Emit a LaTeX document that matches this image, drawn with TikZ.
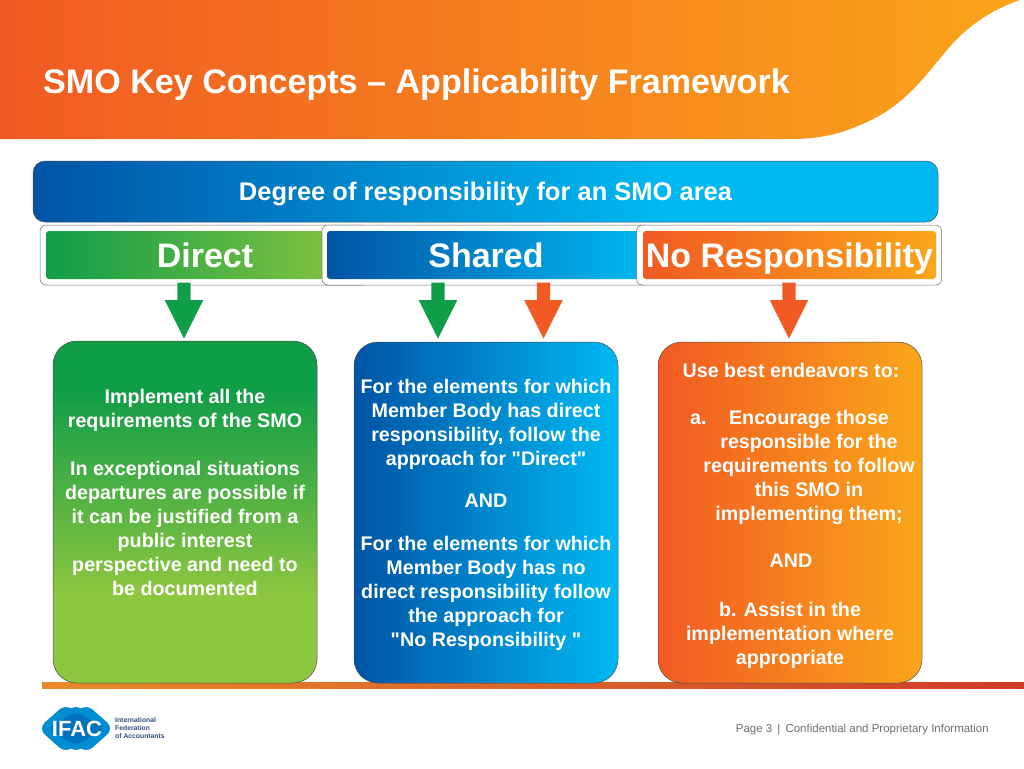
\documentclass[tikz,border=0pt]{standalone}
\usepackage{fontspec}
\setmainfont{Liberation Sans}[Ligatures=TeXOff]
\usepackage{tikz}
\usetikzlibrary{positioning,shapes.arrows,shapes.geometric}
\definecolor{ifacblue}{HTML}{0054A6}
\definecolor{ifaccyan}{HTML}{00B9F2}
\definecolor{ifacgreen}{HTML}{109D48}
\definecolor{ifaclime}{HTML}{8DC63F}
\definecolor{ifacred}{HTML}{F15A22}
\definecolor{ifacamber}{HTML}{FAA61A}
\definecolor{edgegray}{HTML}{6D6E71}
\definecolor{barleft}{HTML}{E88A28}
\definecolor{barright}{HTML}{CF3B27}
\definecolor{logoname}{HTML}{2F4F7F}
\pgfdeclarehorizontalshading{barshade}{100bp}{color(0bp)=(ifacblue);color(25bp)=(ifacblue);color(60bp)=(ifaccyan);color(100bp)=(ifaccyan)}
\pgfdeclareverticalshading{greenshade}{100bp}{color(0bp)=(ifaclime);color(38bp)=(ifaclime);color(68bp)=(ifacgreen);color(100bp)=(ifacgreen)}

\begin{document}
\begin{tikzpicture}[x=1pt,y=-1pt,font=\bfseries\color{white},
 outerbox/.style={draw=edgegray,fill=white,rounded corners=6pt,line width=.5pt,minimum height=60pt,inner sep=0pt},
 innerbox/.style={rounded corners=3pt,minimum height=48pt,inner sep=0pt,text height=26pt,text depth=1.4pt,font=\fontsize{34}{36}\bfseries\color{white}},
 bigbox/.style={draw=black!70,line width=.5pt,rounded corners=24pt,minimum width=264pt,minimum height=342pt,inner sep=0pt},
 bodytext/.style={align=center,inner sep=0pt,font=\fontsize{19.7}{24}\bfseries\color{white}},
 downarrow/.style={single arrow,shape border rotate=270,inner sep=0pt,text width=13pt,text height=0pt,text depth=0pt,minimum width=38pt,minimum height=56pt,single arrow head extend=12.5pt,single arrow tip angle=53},
 logopart/.style={diamond,fill=ifaccyan!55!ifacblue,rounded corners=9pt,minimum width=56pt,minimum height=50pt,inner sep=0pt}]
\useasboundingbox (0,0) rectangle (1024,768);
\shade[left color=ifacred,right color=ifacamber] (0,0) -- (1024,0) -- (1020,0)
 .. controls (985,12) and (962,32) .. (947,50)
 .. controls (925,76) and (905,105) .. (867,122)
 .. controls (845,132) and (825,139) .. (790,139) -- (0,139) -- cycle;
\node[anchor=base west,inner sep=0pt,font=\fontsize{34.1}{36}\bfseries\color{white}] (title) at (43,93) {SMO Key Concepts – Applicability Framework};
% bar under the columns
\shade[left color=barleft,right color=barright] (42,682) rectangle (1024,688);
\node[draw=black!70,line width=.5pt,shading=barshade,rounded corners=12pt,minimum width=905pt,minimum height=61pt,inner sep=0pt,text height=20pt,text depth=3pt,font=\fontsize{25.5}{28}\bfseries\color{white}] (header) at (485.5,191.5) {Degree of responsibility for an SMO area};
% the three headings
\node[outerbox,minimum width=330pt] (directouter) at (205,255) {};
\node[innerbox,left color=ifacgreen,right color=ifaclime,minimum width=318pt] (direct) at (205,255) {Direct};
\node[outerbox,minimum width=328pt] (sharedouter) at (486,255) {};
\node[innerbox,left color=ifacblue,right color=ifaccyan,minimum width=318pt] (shared) at (486,255) {Shared};
\node[outerbox,minimum width=305pt] (noneouter) at (789,255) {};
\node[innerbox,left color=ifacred,right color=ifacamber,minimum width=293pt] (none) at (789.5,255) {No Responsibility};
% the arrows
\node[downarrow,fill=ifacgreen] (arrowa) at (184,304) {};
\node[downarrow,fill=ifacgreen] (arrowb) at (438,304) {};
\node[downarrow,fill=ifacred] (arrowc) at (543.5,304) {};
\node[downarrow,fill=ifacred] (arrowd) at (789,304) {};
% the three columns
\node[bigbox,shading=greenshade] (greenbox) at (185,512) {};
\node[bigbox,left color=ifacblue,right color=ifaccyan,minimum height=341pt] (bluebox) at (486,512.5) {};
\node[bigbox,left color=ifacred,right color=ifacamber,minimum height=341pt] (redbox) at (790,512.5) {};
\node[bodytext] (greentext) at (185,492) {Implement all the\\requirements of the SMO\\[24pt]In exceptional situations\\departures are possible if\\it can be justified from a\\public interest\\perspective and need to\\be documented};
\node[bodytext] (bluetext) at (486,515) {For the elements for which\\Member Body has direct\\responsibility, follow the\\approach for "Direct"\\[18pt]AND\\[19pt]For the elements for which\\Member Body has no\\direct responsibility follow\\the approach for\\"No Responsibility "};
\node[bodytext] (redtop) at (791,370) {Use best endeavors to:};
\node[bodytext] (reditem) at (809,467) {Encourage those\\responsible for the\\requirements to follow\\this SMO in\\implementing them;};
\node[bodytext,anchor=base west] (redmark) at (690,424) {a.};
\node[bodytext] (redand) at (791,561) {AND};
\node[bodytext] (redlast) at (790,635) {b. Assist in the\\implementation where\\appropriate};
% logo and footer
\foreach \n/\x in {logoa/66,logob/76,logoc/86}
 \node[logopart] (\n) at (\x,728.5) {};
\node[diamond,fill=ifacblue!70!ifaccyan,rounded corners=7pt,minimum width=58pt,minimum height=34pt,inner sep=0pt] (logomid) at (76,728.5) {};
\node[inner sep=0pt,font=\fontsize{22}{24}\bfseries\color{white}] (logotext) at (77,729) {IFAC};
\node[anchor=west,align=left,inner sep=0pt,font=\fontsize{6.8}{8}\bfseries\color{logoname}] (logoname) at (115,728.5) {International\\Federation\\of Accountants};
\node[anchor=east,inner sep=0pt,font=\fontsize{11.5}{13}\mdseries\color{edgegray}] (footer) at (989,729.5) {Page 3 \,|\, Confidential and Proprietary Information};
\end{tikzpicture}
\end{document}
